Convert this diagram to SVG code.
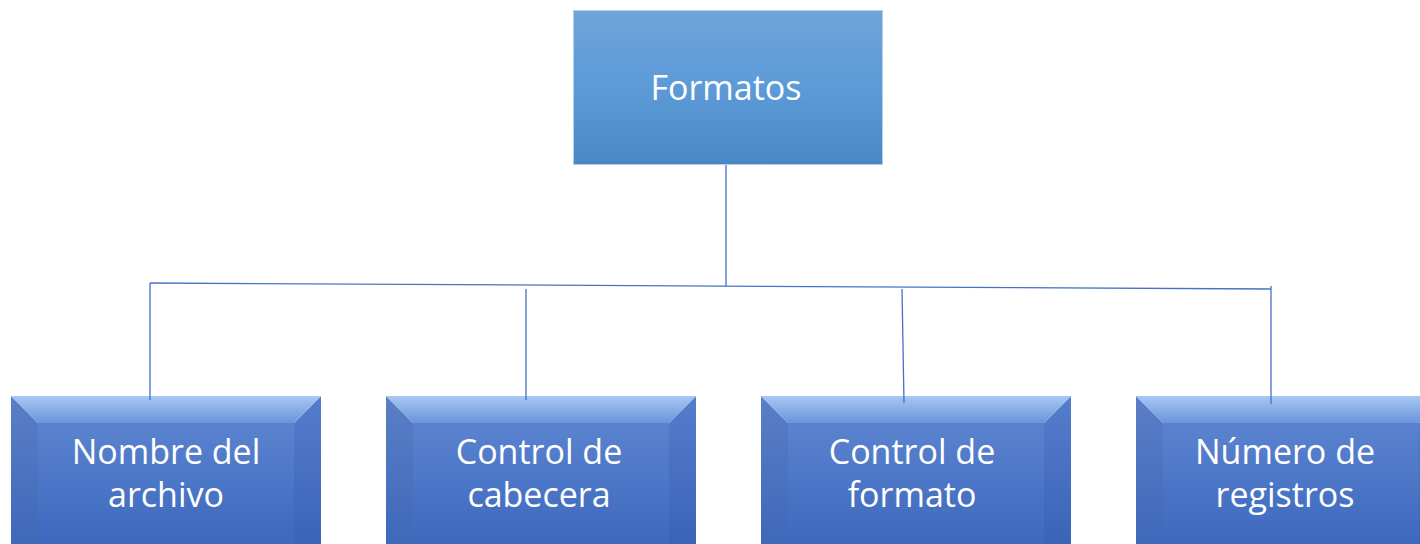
<svg xmlns="http://www.w3.org/2000/svg" width="1420" height="544" viewBox="0 0 1420 544">
<defs>
<linearGradient id="gTop" x1="0" y1="0" x2="0" y2="1">
<stop offset="0" stop-color="#70a4d9"/>
<stop offset="0.5" stop-color="#5c9ad8"/>
<stop offset="1" stop-color="#4a87c6"/>
</linearGradient>
<linearGradient id="gFace" x1="0" y1="0" x2="0" y2="1">
<stop offset="0" stop-color="#5a83cf"/>
<stop offset="1" stop-color="#3a66bc"/>
</linearGradient>
<linearGradient id="gBevTop" x1="0" y1="0" x2="0" y2="1">
<stop offset="0" stop-color="#a8c8f4"/>
<stop offset="1" stop-color="#6a94da"/>
</linearGradient>
<linearGradient id="gBevL" x1="0" y1="0" x2="0" y2="1">
<stop offset="0" stop-color="#5a7fc6"/>
<stop offset="1" stop-color="#3c66b8"/>
</linearGradient>
<linearGradient id="gBevR" x1="0" y1="0" x2="0" y2="1">
<stop offset="0" stop-color="#557dcc"/>
<stop offset="1" stop-color="#3862b6"/>
</linearGradient>
<g id="bev">
<polygon points="0,0 27,27 27,160 0,160" fill="url(#gBevL)"/>
<polygon points="310,0 283,27 283,160 310,160" fill="url(#gBevR)"/>
<rect x="27" y="27" width="256" height="133" fill="url(#gFace)"/>
<polygon points="0,0 310,0 283,27 27,27" fill="url(#gBevTop)"/>
</g>
</defs>
<style>
.t{font-family:"Open Sans","Liberation Sans",sans-serif;font-size:34px;fill:#ffffff;text-anchor:middle}
.c{stroke:#4472c4;stroke-width:1.3;fill:none}
</style>
<g id="formatos">
<rect x="573.5" y="10.5" width="309" height="154" fill="url(#gTop)" stroke="#b3cdea" stroke-width="1"/>
<text class="t" x="726" y="100">Formatos</text>
</g>
<g id="nombre">
<use href="#bev" x="11" y="396"/>
<text class="t" x="166" y="464">Nombre del</text>
<text class="t" x="166" y="507">archivo</text>
</g>
<g id="cabecera">
<use href="#bev" x="386" y="396"/>
<text class="t" x="539" y="464">Control de</text>
<text class="t" x="539" y="507">cabecera</text>
</g>
<g id="formato">
<use href="#bev" x="761" y="396"/>
<text class="t" x="912" y="464">Control de</text>
<text class="t" x="912" y="507">formato</text>
</g>
<g id="registros">
<use href="#bev" x="1136" y="396"/>
<text class="t" x="1285" y="464">Número de</text>
<text class="t" x="1285" y="507">registros</text>
</g>
<g id="connectors">
<line class="c" x1="726" y1="165" x2="726" y2="286"/>
<line class="c" x1="150" y1="283" x2="1271" y2="289"/>
<line class="c" x1="150" y1="283" x2="150" y2="400"/>
<line class="c" x1="526" y1="289" x2="526" y2="400"/>
<line class="c" x1="902" y1="289" x2="904" y2="403"/>
<line class="c" x1="1271" y1="286" x2="1271" y2="404"/>
</g>
</svg>
